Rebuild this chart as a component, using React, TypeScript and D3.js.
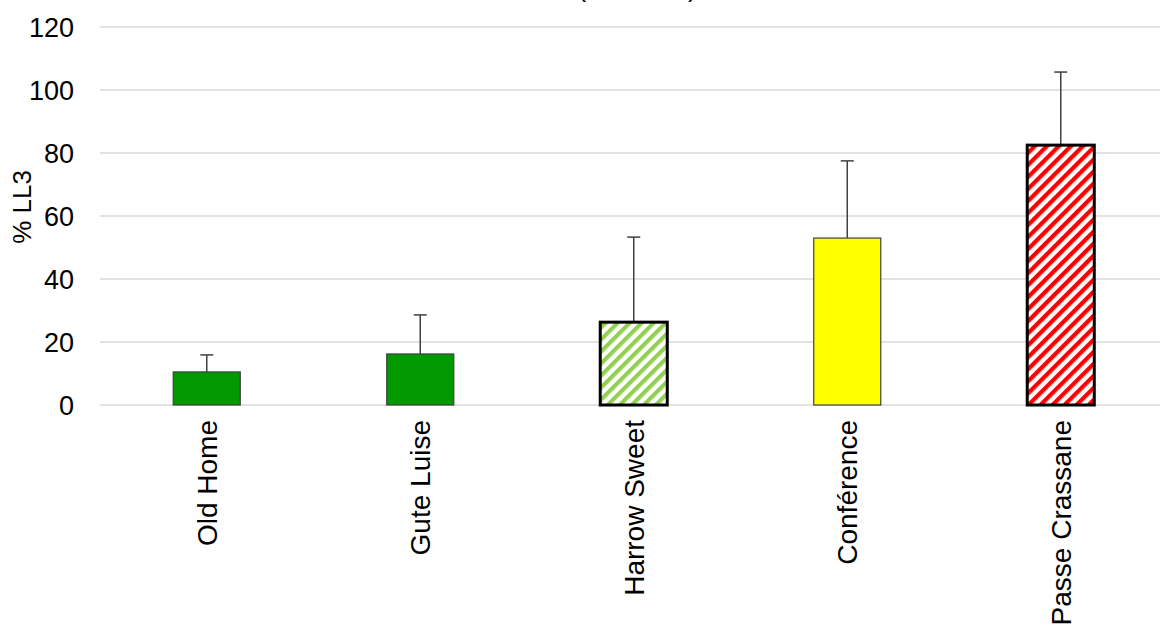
import React from "react";
import * as d3 from "d3";

const categories = ["Old Home", "Gute Luise", "Harrow Sweet", "Conférence", "Passe Crassane"];
const values = [10.5, 16.2, 26.3, 53, 82.5];
const errors = [5.4, 12.4, 27, 24.5, 23.2];
const fills = ["#009900", "#009900", "hatch-green", "#FFFF00", "hatch-red"];
const yTicks = [0, 20, 40, 60, 80, 100, 120];
const titleText = "(n = 2010)";
const yLabel = "% LL3";

const W = 1160;
const H = 633;
const FONT = "Liberation Sans, Arial, sans-serif";

export default function App() {
  const left = 100;
  const band = 213.5;
  const x = d3
    .scaleBand<string>()
    .domain(categories)
    .range([left, left + band * categories.length])
    .paddingInner(0.686)
    .paddingOuter(0.343);
  const y = d3.scaleLinear().domain([0, 120]).range([405, 27]);
  const bw = x.bandwidth();

  return (
    <svg
      width={W}
      height={H}
      style={{ position: "absolute", left: 0, top: 0, background: "#fff" }}
      fontFamily={FONT}
    >
      <defs>
        <pattern id="hatch-green" patternUnits="userSpaceOnUse" width={8.5} height={8.5} patternTransform="rotate(45)">
          <rect width={8.5} height={8.5} fill="#fff" />
          <rect width={4.2} height={8.5} fill="#92D050" />
        </pattern>
        <pattern id="hatch-red" patternUnits="userSpaceOnUse" width={8.5} height={8.5} patternTransform="rotate(45)">
          <rect width={8.5} height={8.5} fill="#fff" />
          <rect width={4.2} height={8.5} fill="#FF0000" />
        </pattern>
      </defs>
      <rect width={W} height={H} fill="#fff" />
      <text x={637} y={-3.5} fontSize={26} textAnchor="middle" fill="#000">
        {titleText}
      </text>
      {yTicks.map((t) => (
        <g key={t}>
          <line x1={left} x2={W} y1={y(t)} y2={y(t)} stroke="#d9d9d9" strokeWidth={1.5} />
          <text x={74} y={y(t)} dy="0.36em" fontSize={27} textAnchor="end" fill="#000">
            {t}
          </text>
        </g>
      ))}
      <text
        transform={`translate(31,${207}) rotate(-90)`}
        fontSize={26}
        textAnchor="middle"
        fill="#000"
      >
        {yLabel}
      </text>
      {categories.map((c, i) => {
        const cx = (x(c) as number) + bw / 2;
        const hatched = fills[i].startsWith("hatch");
        const fill = hatched ? `url(#${fills[i]})` : fills[i];
        const top = y(values[i]);
        const et = y(values[i] + errors[i]);
        return (
          <g key={c}>
            <line x1={cx} x2={cx} y1={top} y2={et} stroke="#404040" strokeWidth={1.5} />
            <line x1={cx - 6.5} x2={cx + 6.5} y1={et} y2={et} stroke="#404040" strokeWidth={1.5} />
            <rect
              x={x(c)}
              y={top}
              width={bw}
              height={y(0) - top}
              fill={fill}
              stroke={hatched ? "#000" : "#404040"}
              strokeWidth={hatched ? 3 : 1.2}
            />
            <text
              transform={`translate(${cx + 10},${420}) rotate(-90)`}
              fontSize={28}
              textAnchor="end"
              fill="#000"
            >
              {c}
            </text>
          </g>
        );
      })}
    </svg>
  );
}
